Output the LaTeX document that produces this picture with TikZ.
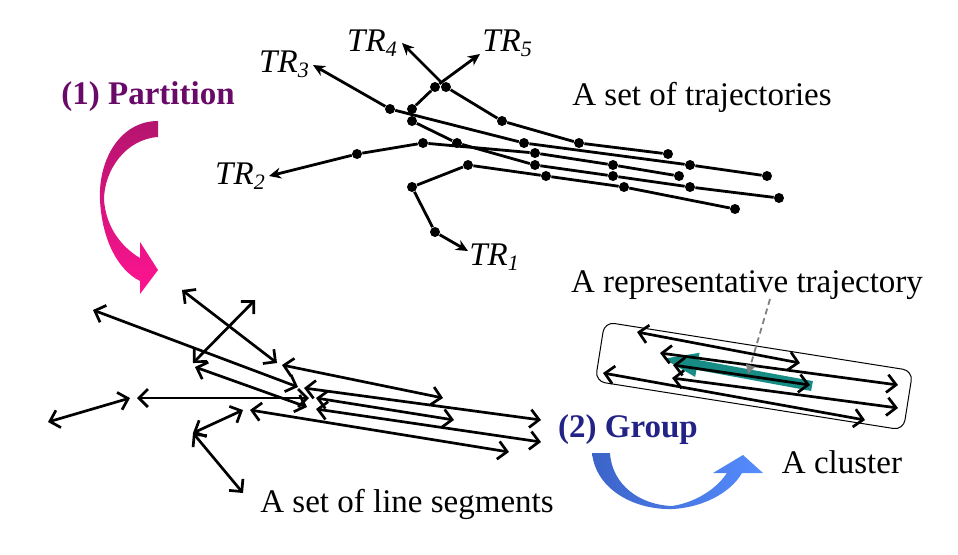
\documentclass[tikz,border=0pt]{standalone}
\usepackage{fontspec}
\setmainfont{Liberation Serif}
\usetikzlibrary{arrows.meta}

\definecolor{partcol}{RGB}{105,10,105}
\definecolor{groupcol}{RGB}{35,35,135}
\definecolor{pinktop}{RGB}{180,20,110}
\definecolor{pinkbot}{RGB}{255,20,145}
\definecolor{blueleft}{RGB}{60,100,200}
\definecolor{blueright}{RGB}{85,140,255}
\definecolor{reptraj}{RGB}{22,140,132}

\newcommand{\trlab}[1]{\textit{TR}\raisebox{-0.35ex}{\fontsize{11}{12}\selectfont\textit{#1}}}

\begin{document}
\begin{tikzpicture}[x=0.5pt, y=-0.5pt,
            dot/.style={circle, fill, inner sep=0pt, minimum size=5pt},
            traj/.style={line width=1.4pt},
            trend/.style={traj, -{Stealth[length=6pt, width=5.5pt]}},
            seg/.style={line width=1.35pt, {Straight Barb[length=4.5pt, width=9pt]}-{Straight Barb[length=4.5pt, width=9pt]}},
            txt/.style={font=\fontsize{16.5}{20}\selectfont},
            phase/.style={font=\fontsize{16.5}{20}\selectfont\bfseries}
        ]
            \useasboundingbox (0,0) rectangle (958,554);

            % Trajectory points
            \node[dot] (p1a) at (735,209) {};
            \node[dot] (p1b) at (624,187) {};
            \node[dot] (p1c) at (546,176) {};
            \node[dot] (p1d) at (468,165) {};
            \node[dot] (p1e) at (412,187) {};
            \node[dot] (p1f) at (435,232) {};
            \coordinate (e1) at (468,251);

            \node[dot] (p2a) at (679,176) {};
            \node[dot] (p2b) at (613,165) {};
            \node[dot] (p2c) at (535,153) {};
            \node[dot] (p2d) at (423,143) {};
            \node[dot] (p2e) at (357,154) {};
            \coordinate (e2) at (269,176);

            \node[dot] (p3a) at (767,176) {};
            \node[dot] (p3b) at (690,165) {};
            \node[dot] (p3c) at (524,143) {};
            \node[dot] (p3d) at (390,109) {};
            \coordinate (e3) at (313,65);

            \node[dot] (p4a) at (668,154) {};
            \node[dot] (p4b) at (579,143) {};
            \node[dot] (p4c) at (502,121) {};
            \node[dot] (p4d) at (446,87) {};
            \coordinate (e4) at (402,43);

            \node[dot] (p5a) at (779,198) {};
            \node[dot] (p5b) at (690,187) {};
            \node[dot] (p5c) at (613,176) {};
            \node[dot] (p5d) at (535,165) {};
            \node[dot] (p5e) at (457,143) {};
            \node[dot] (p5f) at (412,121) {};
            \node[dot] (p5g) at (412,109) {};
            \node[dot] (p5h) at (435,87) {};
            \coordinate (e5) at (480,54);

            \draw[trend] (p1a) -- (p1b) -- (p1c) -- (p1d) -- (p1e) -- (p1f) -- (e1);
            \draw[trend] (p2a) -- (p2b) -- (p2c) -- (p2d) -- (p2e) -- (e2);
            \draw[trend] (p3a) -- (p3b) -- (p3c) -- (p3d) -- (e3);
            \draw[trend] (p4a) -- (p4b) -- (p4c) -- (p4d) -- (e4);
            \draw[trend] (p5a) -- (p5b) -- (p5c) -- (p5d) -- (p5e) -- (p5f) -- (p5g) -- (p5h) -- (e5);

            \node[txt] (tr1) at (494,257) {\trlab{1}};
            \node[txt] (tr2) at (240,176) {\trlab{2}};
            \node[txt] (tr3) at (284,64) {\trlab{3}};
            \node[txt] (tr4) at (372,43) {\trlab{4}};
            \node[txt] (tr5) at (507,43) {\trlab{5}};
            \node[txt] (trajset) at (702,97) {A set of trajectories};

            % Partition step
            \node[phase, partcol] (partition) at (148,97) {(1) Partition};
            \shade[top color=pinktop, bottom color=pinkbot]
                (158,121) .. controls (120,121) and (98,160) .. (100,200)
                .. controls (102,240) and (118,270) .. (140,281)
                -- (140,294) -- (158,270) -- (140,242) -- (140,258)
                .. controls (120,246) and (106,226) .. (104,200)
                .. controls (104,170) and (126,139) .. (158,137) -- cycle;

            % Line segments
            \draw[seg] (93,310) -- (298,387);
            \draw[seg] (182,290) -- (277,363);
            \draw[seg] (255,300) -- (193,363);
            \draw[seg] (195,367) -- (307,407);
            \draw[seg] (282,365) -- (443,398);
            \draw[seg] (304,388) -- (541,420);
            \draw[seg] (316,398) -- (454,420);
            \draw[seg] (316,409) -- (541,442);
            \draw[seg] (250,410) -- (509,452);
            \draw[seg] (137,398) -- (309,398);
            \draw[seg] (48,422) -- (130,398);
            \draw[seg] (193,433) -- (243,410);
            \draw[seg] (193,433) -- (243,493);
            \node[txt] (segset) at (407,504) {A set of line segments};

            % Cluster
            \node[draw, rounded corners=5pt, line width=0.5pt, minimum width=156pt, minimum height=30pt, rotate=-9] (cluster) at (754,376) {};
            \draw[reptraj, line width=5pt, -{Triangle[length=19pt, width=10.5pt]}] (812,386) -- (660,358);
            \draw[seg] (637,332) -- (800,363);
            \draw[seg] (660,353) -- (898,385);
            \draw[seg] (673,365) -- (810,385);
            \draw[seg] (603,373) -- (865,420);
            \draw[seg] (672,378) -- (898,408);

            \node[txt] (reptext) at (747,285) {A representative trajectory};
            \coordinate (repfrom) at (770,299);
            \coordinate (repto) at (748,374);
            \draw[gray, line width=0.9pt, dash pattern=on 3pt off 2pt, -{Triangle[length=4.5pt, width=4.5pt]}] (repfrom) -- (repto);

            % Group step
            \node[phase, groupcol] (group) at (628,430) {(2) Group};
            \shade[left color=blueleft, right color=blueright]
                (592,453) .. controls (596,490) and (635,510) .. (672,509)
                .. controls (700,508) and (730,494) .. (742,473)
                -- (763,473) -- (743,455) -- (713,473) -- (727,473)
                .. controls (714,492) and (692,503) .. (672,506)
                .. controls (640,505) and (612,485) .. (610,453) -- cycle;
            \node[txt] (clustertext) at (842,462) {A cluster};
        \end{tikzpicture}
\end{document}
